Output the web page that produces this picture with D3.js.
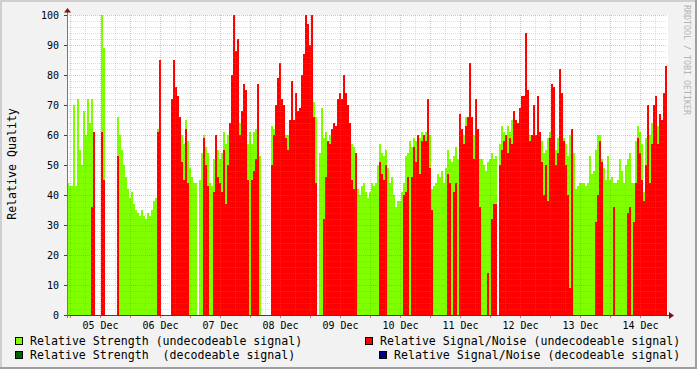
<!DOCTYPE html>
<html>
<head>
<meta charset="utf-8">
<script src="https://cdn.jsdelivr.net/npm/d3@7"></script>
<style>
  body { margin: 0; background: #fff; }
  text { font-family: "DejaVu Sans Mono", monospace; }
</style>
</head>
<body>
<div id="chart-area"></div>
<script>

// relative strength (undecodeable), one value every 48 min, null = no data
var strength = [
    44,43,43,70,43,72,55,50,68,60,
    72,64,72,50,null,null,null,100,89,null,
    null,null,null,null,null,66,60,55,50,46,
    42,39,41,37,35,34,33,35,33,32,
    34,33,35,38,39,62,null,null,null,null,
    null,null,null,null,null,null,null,60,57,65,
    58,49,46,44,44,null,45,54,60,56,
    54,44,43,52,55,55,52,54,61,57,
    60,null,null,null,null,null,64,null,null,null,
    57,61,57,61,62,55,53,null,null,null,
    null,null,63,62,null,null,null,null,53,60,
    60,null,null,62,null,62,null,null,null,null,
    null,null,null,71,66,null,54,69,59,61,
    56,60,null,null,null,null,null,null,null,null,
    null,null,57,56,48,42,40,43,44,41,
    39,41,44,43,44,50,57,54,53,55,
    49,44,46,40,36,38,38,41,44,53,
    54,58,56,59,58,59,59,61,59,61,
    58,60,42,43,44,47,46,48,44,49,
    55,52,51,53,56,52,51,61,60,66,
    null,null,55,60,null,null,52,52,50,48,
    51,52,54,52,53,null,57,63,61,55,
    63,61,65,null,null,null,null,null,null,null,
    null,60,59,null,null,null,59,58,54,55,
    59,61,null,null,55,59,null,65,59,57,
    53,60,55,54,42,43,44,44,44,43,
    44,53,47,48,55,60,60,52,49,45,
    53,45,46,44,44,45,52,48,44,50,
    52,54,44,44,58,63,61,57,41,59,
    null,60,64,null,null,63,null,null,null,null
];

// relative signal/noise (undecodeable)
var snr = [
    null,null,null,null,null,null,null,null,null,null,
    null,null,36,61,null,null,null,61,45,null,
    null,null,null,null,null,53,null,null,null,null,
    null,null,null,null,null,null,null,null,null,null,
    null,null,null,null,null,61,85,null,null,null,
    null,null,72,85,76,73,66,51,45,62,
    44,null,null,null,null,null,null,null,59,50,
    43,null,null,41,60,46,44,41,55,37,
    50,64,80,100,88,92,60,68,77,75,
    45,null,45,48,52,77,null,null,null,null,
    null,null,50,60,70,79,84,72,70,59,
    55,65,78,65,74,68,69,80,87,100,
    97,90,100,66,44,null,null,null,32,46,
    58,57,62,64,63,72,74,72,80,74,
    70,64,45,42,54,null,null,null,null,null,
    null,null,null,null,null,null,51,47,45,50,
    null,null,null,null,null,null,null,null,40,41,
    46,null,46,56,51,60,47,58,60,58,
    72,49,35,null,null,null,null,null,null,null,
    47,44,null,41,44,null,67,62,57,63,
    66,84,66,52,72,62,36,null,null,null,
    14,null,32,37,37,null,50,55,58,60,
    54,59,57,68,65,64,69,73,73,94,
    75,58,60,70,60,73,61,51,40,50,
    38,59,77,76,50,54,82,74,58,50,
    40,9,62,null,null,null,null,null,null,null,
    null,null,null,null,31,40,58,51,null,null,
    null,null,null,36,null,null,null,null,null,null,
    34,36,null,31,44,59,54,45,38,50,
    70,44,57,70,73,57,67,65,74,83
];

var seriesNames = [
    'Relative Strength (undecodeable signal)',
    'Relative Strength  (decodeable signal)',
    'Relative Signal/Noise (undecodeable signal)',
    'Relative Signal/Noise (decodeable signal)'
];
var yTicks = [0,10,20,30,40,50,60,70,80,90,100];

var def = {
    width: 697,
    height: 369,
    left: 67,
    right: 667,
    top: 15,
    bottom: 315,
    start: Date.UTC(2008, 11, 4, 22, 48),
    step: 48 * 60 * 1000,
    green: '#80FF00',
    red: '#FF0000',
    dgreen: '#006400',
    blue: '#000080'
};
def.end = def.start + strength.length * def.step;

var svg = d3.select('#chart-area').append('svg')
    .attr('width', def.width)
    .attr('height', def.height);

// frame, rrdtool style
svg.append('rect').attr('width', def.width).attr('height', def.height).attr('fill', '#F2F2F2');
svg.append('path').attr('d', 'M0,1H' + def.width + 'M1,0V' + def.height)
    .attr('stroke', '#CFCFCF').attr('stroke-width', 2);
svg.append('path').attr('d', 'M0,' + (def.height - 1) + 'H' + def.width + 'M' + (def.width - 1) + ',0V' + def.height)
    .attr('stroke', '#9E9E9E').attr('stroke-width', 2);
svg.append('rect')
    .attr('x', def.left).attr('y', def.top)
    .attr('width', def.right - def.left + 1).attr('height', def.bottom - def.top)
    .attr('fill', '#fff');

var x = d3.scaleUtc()
    .domain([def.start, def.end])
    .range([def.left, def.right]);
var y = d3.scaleLinear()
    .domain([0, 100])
    .range([def.bottom, def.top]);

function points(arr) {
    return arr.map((v, i) => ({ t: def.start + i * def.step, v: v }))
        .filter(d => d.v != null);
}

function drawArea(arr, colour) {
    svg.append('g').selectAll('rect')
        .data(points(arr))
        .enter().append('rect')
        .attr('x', d => x(d.t))
        .attr('width', d => x(d.t + def.step) - x(d.t))
        .attr('y', d => y(d.v))
        .attr('height', d => y(0) - y(d.v))
        .attr('fill', colour)
        .attr('shape-rendering', 'crispEdges');
}
drawArea(strength, def.green);
drawArea(snr, def.red);

// grid goes on top, like rrdtool does, but faint
var grid = svg.append('g').attr('stroke-dasharray', '1,1').attr('stroke-width', 1);
var minorT = d3.utcHour.every(6).range(def.start, def.end).filter(t => t.getUTCHours() % 12 != 0);
var majorT = d3.utcHour.every(12).range(def.start, def.end);
var minorY = d3.range(2, 100, 2).filter(v => v % 10 != 0);
var majorY = yTicks.filter(v => v > 0);
var minorCol = 'rgba(143,143,143,0.3)',
    majorCol = 'rgba(222,80,80,0.4)';

grid.selectAll('.vmin').data(minorT).enter().append('line')
    .attr('x1', d => Math.round(x(d)) + 0.5).attr('x2', d => Math.round(x(d)) + 0.5)
    .attr('y1', def.top).attr('y2', def.bottom)
    .attr('stroke', minorCol);
grid.selectAll('.hmin').data(minorY).enter().append('line')
    .attr('x1', def.left).attr('x2', def.right)
    .attr('y1', d => y(d) + 0.5).attr('y2', d => y(d) + 0.5)
    .attr('stroke', minorCol);
grid.selectAll('.vmaj').data(majorT).enter().append('line')
    .attr('x1', d => Math.round(x(d)) + 0.5).attr('x2', d => Math.round(x(d)) + 0.5)
    .attr('y1', def.top).attr('y2', def.bottom)
    .attr('stroke', majorCol);
grid.selectAll('.hmaj').data(majorY).enter().append('line')
    .attr('x1', def.left).attr('x2', def.right)
    .attr('y1', d => y(d) + 0.5).attr('y2', d => y(d) + 0.5)
    .attr('stroke', majorCol);

// axes
var noons = d3.utcHour.every(12).range(def.start, def.end).filter(t => t.getUTCHours() == 12);
var xAxis = d3.axisBottom(x)
    .tickValues(noons)
    .tickFormat(d3.utcFormat('%d %b'))
    .tickSize(0)
    .tickPadding(7);
var xLeg = svg.append('g')
    .attr('transform', 'translate(0,' + def.bottom + ')')
    .call(xAxis);
xLeg.select('.domain').remove();
xLeg.selectAll('text').attr('font-family', '"DejaVu Sans Mono", monospace').attr('font-size', '10px').attr('fill', '#000');

var yAxis = d3.axisLeft(y)
    .tickValues(yTicks)
    .tickSize(3)
    .tickPadding(5);
var yLeg = svg.append('g')
    .attr('transform', 'translate(' + def.left + ',0)')
    .call(yAxis);
yLeg.select('.domain').remove();
yLeg.selectAll('line').attr('stroke', '#2C4D43');
yLeg.selectAll('text').attr('font-family', '"DejaVu Sans Mono", monospace').attr('font-size', '10px').attr('fill', '#000');

// tick marks on the time axis
svg.append('g').selectAll('line').data(majorT).enter().append('line')
    .attr('x1', d => Math.round(x(d)) + 0.5).attr('x2', d => Math.round(x(d)) + 0.5)
    .attr('y1', def.bottom).attr('y2', def.bottom + 3)
    .attr('stroke', 'rgba(222,80,80,0.8)');

svg.append('line')
    .attr('x1', def.left - 3).attr('x2', def.right + 3)
    .attr('y1', def.bottom + 0.5).attr('y2', def.bottom + 0.5)
    .attr('stroke', '#2C4D43');
svg.append('line')
    .attr('x1', def.left + 0.5).attr('x2', def.left + 0.5)
    .attr('y1', def.bottom + 3).attr('y2', def.top - 5)
    .attr('stroke', '#707a78');

// arrows
svg.append('path').attr('d', 'M' + (def.left - 3) + ',12.5L' + (def.left + 0.5) + ',8L' + (def.left + 4) + ',12.5Z')
    .attr('fill', '#7F1010');
svg.append('path').attr('d', 'M' + (def.right + 2) + ',' + (def.bottom - 3) + 'L' + (def.right + 7) + ',' + (def.bottom + 0.5) + 'L' + (def.right + 2) + ',' + (def.bottom + 4) + 'Z')
    .attr('fill', '#7F1010');

// axis title + watermark
svg.append('text')
    .attr('transform', 'translate(16,164) rotate(-90)')
    .attr('text-anchor', 'middle')
    .attr('font-size', '11.6px')
    .text('Relative Quality');
svg.append('text')
    .attr('transform', 'translate(684,5) rotate(90)')
    .attr('font-size', '8.3px')
    .attr('fill', '#b4b4b4')
    .text('RRDTOOL / TOBI OETIKER');

// legend
var legendPos = [
    { x: 15, y: 337, tx: 30, c: def.green },
    { x: 15, y: 351, tx: 30, c: def.dgreen },
    { x: 365, y: 337, tx: 380, c: def.red },
    { x: 379, y: 351, tx: 394, c: def.blue }
];
var leg = svg.append('g').selectAll('g')
    .data(seriesNames)
    .enter().append('g');
leg.append('rect')
    .attr('x', (d, i) => legendPos[i].x + 0.5)
    .attr('y', (d, i) => legendPos[i].y + 0.5)
    .attr('width', 7).attr('height', 7)
    .attr('fill', (d, i) => legendPos[i].c)
    .attr('stroke', '#000');
leg.append('text')
    .attr('x', (d, i) => legendPos[i].tx)
    .attr('y', (d, i) => legendPos[i].y + 8)
    .attr('font-size', '11.6px')
    .attr('xml:space', 'preserve')
    .style('white-space', 'pre')
    .text(d => d);

</script>
</body>
</html>
